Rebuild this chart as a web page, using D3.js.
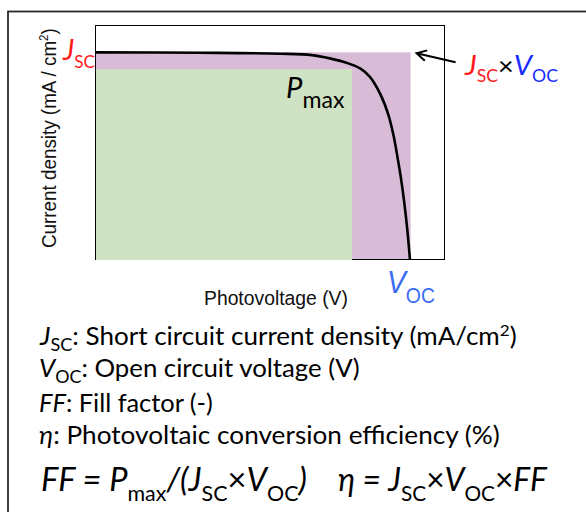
<!DOCTYPE html>
<html><head><meta charset="utf-8">
<script src="https://cdn.jsdelivr.net/npm/d3@7/dist/d3.min.js"></script>
<style>html,body{margin:0;padding:0;background:#fff;overflow:hidden}</style>
</head><body>
<script>
// ---- data (normalised units) ----
const voltage = [0, 0.30, 0.53, 0.62, 0.672, 0.72, 0.759, 0.787, 0.816, 0.840, 0.855, 0.866, 0.876, 0.886, 0.895, 0.902];
const current = [0.887, 0.885, 0.881, 0.875, 0.861, 0.842, 0.818, 0.782, 0.711, 0.620, 0.530, 0.440, 0.350, 0.240, 0.120, 0];
const Jsc = 0.887, Voc = 0.904;   // short circuit current, open circuit voltage
const Vmp = 0.736, Jmp = 0.815;   // maximum power point
const definitions = [
  [{t:"J",i:1},{t:"SC",sub:1},{t:": Short circuit current density (mA/cm"},{t:"2",sup:1},{t:")"}],
  [{t:"V",i:1},{t:"OC",sub:1},{t:": Open circuit voltage (V)"}],
  [{t:"FF",i:1},{t:": Fill factor (-)"}],
  [{t:"η",i:1},{t:": Photovoltaic conversion efficiency (%)"}]
];

const W = 586, H = 512;
const svg = d3.select("body").append("svg").attr("width", W).attr("height", H);
const x = d3.scaleLinear().domain([0, 1]).range([96, 444]);
const y = d3.scaleLinear().domain([0, 1]).range([259, 26]);
const SANS = "'Liberation Sans', Arial, sans-serif";
const CAL = "Lato, 'Open Sans', 'Noto Sans', sans-serif";

// outer frame
svg.append("rect").attr("x", 8).attr("y", 11.5).attr("width", 620).attr("height", 560)
  .attr("fill", "none").attr("stroke", "#2a2a2a").attr("stroke-width", 1.8);

// plot background
svg.append("rect").attr("x", x(0)).attr("y", y(1)).attr("width", x(1) - x(0)).attr("height", y(0) - y(1)).attr("fill", "#fff");
// Jsc x Voc rectangle
svg.append("rect").attr("x", x(0)).attr("y", y(Jsc)).attr("width", x(Voc) - x(0)).attr("height", y(0) - y(Jsc)).attr("fill", "#d8bcd7");
// frame
svg.append("rect").attr("x", x(0) - 0.5).attr("y", y(1) - 0.5).attr("width", x(1) - x(0) + 1).attr("height", y(0) - y(1) + 1)
  .attr("fill", "none").attr("stroke", "#000").attr("stroke-width", 1);
// Pmax rectangle
svg.append("rect").attr("x", x(0)).attr("y", y(Jmp)).attr("width", x(Vmp) - x(0)).attr("height", y(0) - y(Jmp) + 1).attr("fill", "#cfe2c3");

// J-V curve
const pts = voltage.map((v, i) => [v, current[i]]);
svg.append("path").datum(pts)
  .attr("d", d3.line().x(d => x(d[0])).y(d => y(d[1])).curve(d3.curveCatmullRom.alpha(0.5)))
  .attr("fill", "none").attr("stroke", "#000").attr("stroke-width", 2.6);

// arrow to Jsc x Voc corner
const tip = [x(Voc) + 6, y(Jsc) + 1], tail = [tip[0] + 39, tip[1] + 9];
const ang = Math.atan2(tail[1] - tip[1], tail[0] - tip[0]);
const hl = 11, ha = 0.5;
svg.append("path")
  .attr("d", `M${tail[0]},${tail[1]}L${tip[0]},${tip[1]}M${tip[0] + hl * Math.cos(ang - ha)},${tip[1] + hl * Math.sin(ang - ha)}L${tip[0]},${tip[1]}L${tip[0] + hl * Math.cos(ang + ha)},${tip[1] + hl * Math.sin(ang + ha)}`)
  .attr("fill", "none").attr("stroke", "#000").attr("stroke-width", 2);

// rich text helper
function rich(parent, x0, y0, segs, o) {
  const t = parent.append("text").attr("x", x0).attr("y", y0).attr("font-family", o.font).attr("fill", o.fill || "#000");
  let cur = 0;
  segs.forEach(s => {
    const shift = s.sub ? o.subShift : s.sup ? o.supShift : 0;
    const size = s.sub ? o.subSize : s.sup ? o.supSize : (s.size || o.size);
    t.append("tspan").attr("dy", shift - cur).attr("font-size", size)
      .attr("font-style", s.i ? "italic" : "normal").attr("fill", s.c || null).text(s.t);
    cur = shift;
  });
  return t;
}
function fit(t, L, R) {
  const bb = t.node().getBBox();
  const sx = (R - L) / bb.width;
  t.attr("transform", `translate(${L - bb.x * sx},0) scale(${sx},1)`);
}

const RED = "#ff1a1a", BLUE = "#1a2cff", LBLUE = "#3a6df2";

// Jsc label left
fit(rich(svg, 62, 60, [{t:"J",i:1,c:RED},{t:"SC",sub:1,c:RED}], {font: CAL, size: 28, subSize: 17, subShift: 8}), 62, 95);
// Pmax label
fit(rich(svg, 286, 98, [{t:"P",i:1},{t:"max",sub:1}], {font: CAL, size: 29, subSize: 23, subShift: 10}), 286, 345);
// Jsc x Voc label
fit(rich(svg, 464, 75, [{t:"J",i:1,c:RED},{t:"SC",sub:1,c:RED},{t:"×",size:26},{t:"V",i:1,c:BLUE},{t:"OC",sub:1,c:BLUE}],
  {font: CAL, size: 28, subSize: 17, subShift: 7}), 464, 558);
// Voc label under axis
fit(rich(svg, 387, 293, [{t:"V",i:1},{t:"OC",sub:1}], {font: SANS, size: 32, subSize: 22, subShift: 10, fill: LBLUE}), 387, 435);

// axis titles
fit(svg.append("text").attr("x", 204).attr("y", 305).attr("font-family", SANS).attr("font-size", 19.5).attr("fill", "#111").text("Photovoltage (V)"), 204, 348);
const yl = svg.append("g").attr("transform", "translate(56,138) rotate(-90)");
fit(rich(yl, -110, 0, [{t:"Current density (mA / cm"},{t:"2",sup:1},{t:")"}], {font: SANS, size: 19.5, supSize: 12, supShift: -8, fill: "#111"}), -110, 110);

// definitions
const defBase = [345, 377, 412, 444];
const defRight = [517, 360, 213, 500];
definitions.forEach((segs, i) => {
  fit(rich(svg, 39, defBase[i], segs, {font: CAL, size: 24.5, subSize: 17, subShift: 6.5, supSize: 16, supShift: -9}), 39, defRight[i]);
});

// formulas
fit(rich(svg, 41, 491, [{t:"FF = P",i:1},{t:"max",sub:1},{t:"/(J",i:1},{t:"SC",sub:1},{t:"×"},{t:"V",i:1},{t:"OC",sub:1},{t:")",i:1}],
  {font: CAL, size: 32, subSize: 21, subShift: 10}), 41, 307);
fit(rich(svg, 338, 491, [{t:"η = J",i:1},{t:"SC",sub:1},{t:"×"},{t:"V",i:1},{t:"OC",sub:1},{t:"×"},{t:"FF",i:1}],
  {font: CAL, size: 32, subSize: 21, subShift: 10}), 338, 548);
</script>
</body></html>
